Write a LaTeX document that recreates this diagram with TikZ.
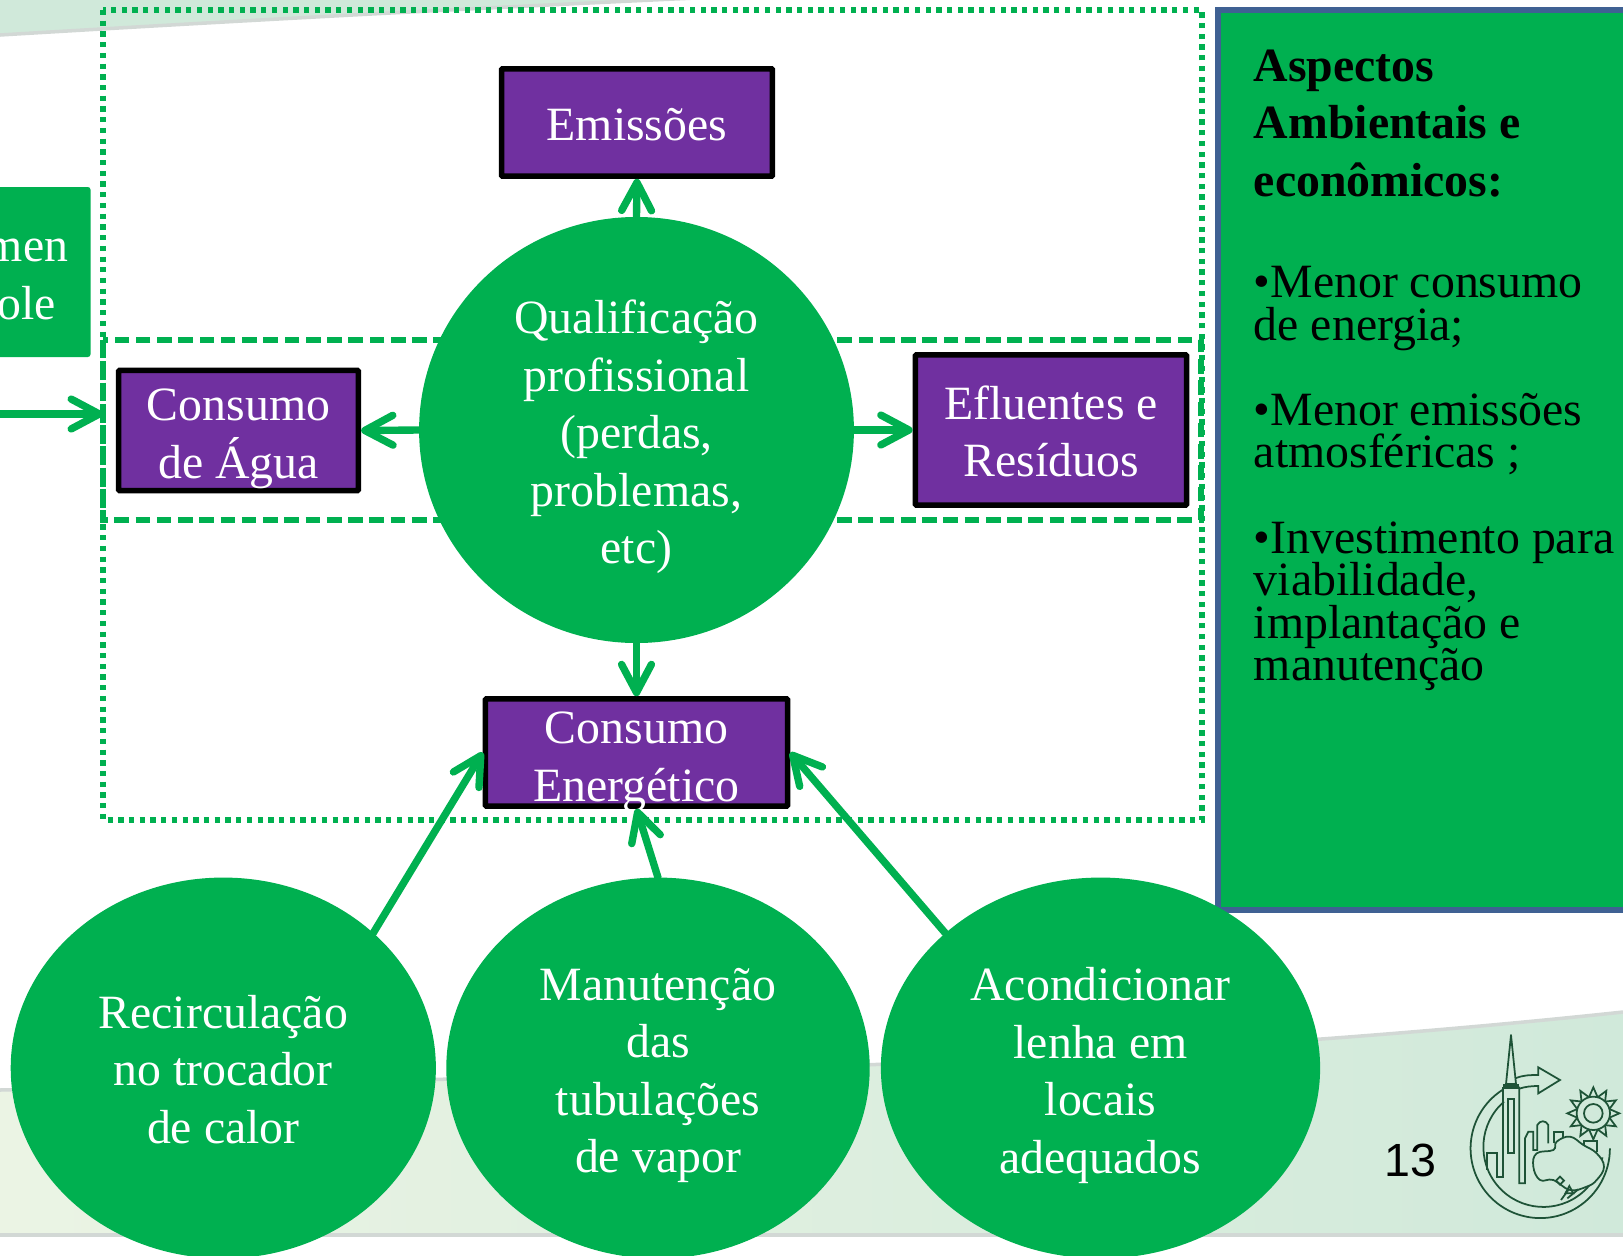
\documentclass[tikz,border=0pt]{standalone}
\usepackage{fontspec}
\setmainfont{Liberation Serif}
\newfontfamily\numfont{Liberation Sans}
\usetikzlibrary{arrows.meta,shapes.geometric}
\definecolor{verde}{HTML}{00B050}
\definecolor{roxo}{HTML}{7030A0}
\definecolor{azulborda}{HTML}{3F6193}
\definecolor{faixa}{HTML}{D0E9DA}
\definecolor{faixaclara}{HTML}{EBF4E4}
\definecolor{cinzafaixa}{HTML}{D2D8D5}
\definecolor{logo}{HTML}{1E5337}
\tikzset{
  texto/.style={font=\fontsize{27.2}{32.7}\selectfont,align=center,text=white,inner sep=0pt},
  caixa/.style={texto,draw=black,fill=roxo,line width=3.1pt,rounded corners=0.5pt},
  bola/.style={texto,ellipse,fill=verde,outer sep=0pt},
  seta/.style={verde,line width=4.2pt,line cap=round,-{Straight Barb[length=16pt,width=17pt,round]}},
  lista/.style={font=\fontsize{27.2}{24.15}\selectfont\lineskiplimit -20pt\relax,align=left,anchor=north west,inner sep=0pt,text=black},
  traco/.style={logo,line width=1pt},
}
\begin{document}
\begin{tikzpicture}[x=0.02cm,y=-0.02cm]
\path[use as bounding box,clip] (0,0) rectangle (1623,1255);
% faixas do fundo
\fill[faixa] (0,-5) -- (0,34) .. controls (200,22) and (450,8) .. (740,-5) -- cycle;
\draw[cinzafaixa,line width=2pt] (0,35) .. controls (200,23) and (450,9) .. (740,-4);
\shade[left color=faixaclara,right color=faixa] (0,1090) .. controls (500,1078) and (1100,1068) .. (1623,1012) -- (1623,1235) -- (0,1235) -- cycle;
\draw[cinzafaixa,line width=2pt] (0,1090) .. controls (500,1078) and (1100,1068) .. (1623,1012);
\draw[cinzafaixa,line width=2.4pt] (0,1235) -- (1623,1235);
% retangulos tracejados
\draw[verde,line width=3pt,dash pattern=on 3pt off 3.1pt] (103,10) rectangle (1202,820);
\draw[verde,line width=3pt,dash pattern=on 8.3pt off 3.8pt] (103,340) rectangle (1201,520);
% caixa cortada a esquerda
\fill[verde,rounded corners=1.5pt] (-20,187) rectangle (90.5,357);
\node[texto] (treina) at (27,272) {men\\ole\\[-40.9pt]};
\coordinate (entrada) at (-10,414);
\coordinate (borda) at (103,414);
\draw[seta] (entrada) -- (borda);
% painel da direita
\draw[fill=verde,draw=azulborda,line width=3pt] (1218,10) rectangle (1660,910);
\node[lista,font=\fontsize{27.2}{32.7}\selectfont\bfseries] (aspectos) at (1253.5,49.5) {Aspectos\\Ambientais e\\econômicos:};
\node[lista] (consumo) at (1253.5,266) {•Menor consumo\\de energia;};
\node[lista] (emissoes2) at (1253.5,393) {•Menor emissões\\atmosféricas ;};
\node[lista] (invest) at (1253.5,521.5) {•Investimento para\\viabilidade,\\implantação e\\manutenção};
% caixas roxas
\node[caixa,minimum width=154.2pt,minimum height=61pt] (emissoes) at (637,122.5) {Emissões\\[-35.1pt]};
\node[caixa,minimum width=136.5pt,minimum height=68.4pt] (agua) at (238.5,430.5) {Consumo\\de Água\\[-36.5pt]};
\node[caixa,minimum width=154.4pt,minimum height=85.5pt] (efluentes) at (1051,430) {Efluentes e\\Resíduos\\[-34.3pt]};
\node[caixa,minimum width=172pt,minimum height=61pt] (energia) at (636.5,752.5) {Consumo\\Energético\\[-37.2pt]};
% bolas
\node[bola,minimum width=247.5pt,minimum height=242.5pt] (qualif) at (636.5,430) {Qualificação\\profissional\\(perdas,\\problemas,\\etc)\\[-35.05pt]};
\node[bola,minimum width=242pt,minimum height=216.8pt] (recirc) at (223.3,1068) {Recirculação\\no trocador\\de calor\\[-33.9pt]};
\node[bola,minimum width=241pt,minimum height=216.8pt] (manut) at (658,1068) {Manutenção\\das\\tubulações\\de vapor\\[-35.6pt]};
\node[bola,minimum width=250pt,minimum height=216.8pt] (acond) at (1100.5,1068) {Acondicionar\\lenha em\\locais\\adequados\\[-35.6pt]};
% setas
\draw[seta] (qualif.north) -- (emissoes.south);
\draw[seta] (qualif.west) -- (agua.east);
\draw[seta] (qualif.east) -- (efluentes.west);
\draw[seta] (qualif.south) -- (energia.north);
\draw[seta] (recirc.42) -- (energia.west);
\draw[seta] (manut.north) -- (energia.south);
\draw[seta] (acond.139) -- (energia.east);
\node[font=\numfont\fontsize{26.5}{30}\selectfont,text=black,inner sep=0pt] (pagina) at (1410,1160) {13};
% logo
\begin{scope}[shift={(1380,980)},x=0.02cm/3,y=-0.02cm/3]
\draw[traco] (370,328) arc[start angle=238,end angle=0,radius=209];
\draw[traco] (372,365) arc[start angle=229,end angle=10,radius=180];
\draw[traco,line join=round] (393,165) -- (378,312) -- (408,312) -- cycle;
\fill[logo] (370,312) rectangle (418,326);
\draw[traco] (370,320) -- (370,590) -- (350,590) -- (350,520) -- (320,520) -- (320,570);
\draw[traco] (418,320) -- (418,610) -- (435,610) -- (435,475) -- (445,455) -- (460,455) -- (460,510) -- (472,510) -- (472,435) .. controls (480,420) and (497,420) .. (505,435) -- (505,490);
\draw[traco] (522,490) -- (522,455) -- (550,455) -- (550,475);
\draw[traco] (385,357) rectangle (403,520);
\draw[traco] (612,510) -- (612,482) -- (652,482) -- (652,515);
\draw[traco] (406,295) .. controls (430,285) and (450,285) .. (475,285) -- (475,262) -- (540,300) -- (475,340) -- (475,318) .. controls (455,318) and (435,320) .. (418,326);
\draw[traco,fill=faixa] plot[smooth cycle,tension=0.7] coordinates {(470,520) (520,510) (530,485) (570,470) (610,495) (650,520) (672,560) (650,600) (620,620) (570,630) (520,600) (480,600) (460,560)};
\draw[traco] (543,660) -- (565,630) (562,655) -- (595,628);
\draw[traco] (540,590) -- (552,602) -- (540,614) -- (528,602) -- cycle;
\draw[traco] (568,618) -- (580,640) -- (556,640) -- cycle;
\draw[traco] (640,400) circle[radius=28];
\draw[traco] (640,400) circle[radius=50];
\foreach \a in {0,30,...,330} {
  \draw[traco] ({640+50*cos(\a-15)},{400+50*sin(\a-15)}) -- ({640+78*cos(\a)},{400+78*sin(\a)}) -- ({640+50*cos(\a+15)},{400+50*sin(\a+15)});
}
\end{scope}
\end{tikzpicture}
\end{document}
